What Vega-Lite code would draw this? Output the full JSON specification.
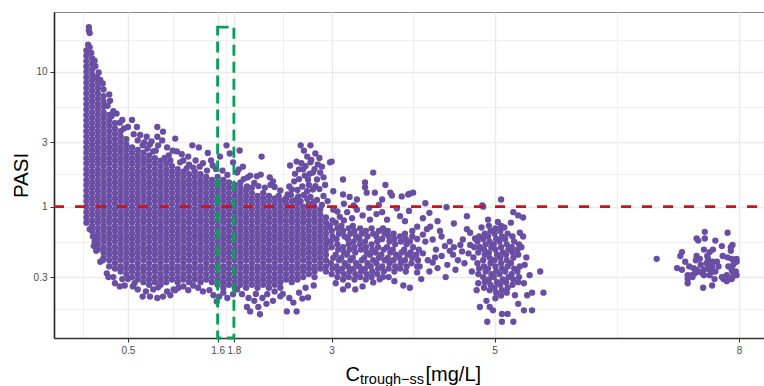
{
  "$schema": "https://vega.github.io/schema/vega-lite/v6.json",
  "width": 710,
  "height": 326,
  "autosize": {"type": "none"},
  "padding": {"left": 54, "top": 12, "right": 0, "bottom": 48},
  "config": {
    "view": {"stroke": "#8a8a8a", "strokeWidth": 1},
    "font": "Liberation Sans"
  },
  "resolve": {"axis": {"x": "independent"}},
  "layer": [
    {
      "data": {
        "values": [
          {"c":-0.01,"p":0.76},{"c":-0.01,"p":0.83},{"c":-0.01,"p":0.91},{"c":-0.01,"p":1},{"c":-0.01,"p":1.1},{"c":-0.01,"p":1.2},{"c":-0.01,"p":1.32},{"c":-0.01,"p":1.45},{"c":-0.01,"p":1.58},{"c":-0.01,"p":1.74},{"c":-0.01,"p":1.9},{"c":-0.01,"p":2.09},{"c":-0.01,"p":2.29},{"c":-0.01,"p":2.51},{"c":-0.01,"p":2.75},{"c":-0.01,"p":3.02},{"c":-0.01,"p":3.31},{"c":-0.01,"p":3.63},{"c":-0.01,"p":3.98},{"c":-0.01,"p":4.37},{"c":-0.01,"p":4.79},{"c":-0.01,"p":5.25},{"c":-0.01,"p":5.75},{"c":-0.01,"p":6.31},{"c":-0.01,"p":6.92},{"c":-0.01,"p":7.59},{"c":-0.01,"p":8.32},{"c":-0.01,"p":9.12},{"c":-0.01,"p":10},{"c":-0.01,"p":10.96},{"c":-0.01,"p":12.02},{"c":-0.01,"p":13.18},{"c":-0.01,"p":14.45},
          {"c":0.01,"p":15.9},{"c":0.03,"p":15.2},{"c":0.02,"p":21.5},{"c":0.02,"p":20.3},{"c":0.03,"p":19.4},
          {"c":0.06,"p":0.66},{"c":0.06,"p":0.72},{"c":0.06,"p":0.79},{"c":0.06,"p":0.87},{"c":0.06,"p":0.955},{"c":0.06,"p":1.05},{"c":0.06,"p":1.15},{"c":0.06,"p":1.26},{"c":0.06,"p":1.38},{"c":0.06,"p":1.51},{"c":0.06,"p":1.66},{"c":0.06,"p":1.82},{"c":0.06,"p":2},{"c":0.06,"p":2.19},{"c":0.06,"p":2.4},{"c":0.06,"p":2.63},{"c":0.06,"p":2.88},{"c":0.06,"p":3.16},{"c":0.06,"p":3.47},{"c":0.06,"p":3.8},{"c":0.06,"p":4.17},{"c":0.06,"p":4.57},{"c":0.06,"p":5.01},{"c":0.06,"p":5.5},{"c":0.06,"p":6.03},{"c":0.06,"p":6.61},{"c":0.06,"p":7.24},{"c":0.06,"p":7.94},{"c":0.06,"p":8.71},{"c":0.06,"p":9.55},{"c":0.06,"p":10.47},{"c":0.06,"p":11.48},{"c":0.06,"p":12.59},{"c":0.05,"p":13.8},
          {"c":0.13,"p":0.48},{"c":0.13,"p":0.525},{"c":0.13,"p":0.575},{"c":0.13,"p":0.63},{"c":0.13,"p":0.69},{"c":0.13,"p":0.76},{"c":0.13,"p":0.83},{"c":0.13,"p":0.91},{"c":0.13,"p":1},{"c":0.13,"p":1.1},{"c":0.13,"p":1.2},{"c":0.13,"p":1.32},{"c":0.13,"p":1.45},{"c":0.13,"p":1.58},{"c":0.13,"p":1.74},{"c":0.13,"p":1.9},{"c":0.13,"p":2.09},{"c":0.13,"p":2.29},{"c":0.13,"p":2.51},{"c":0.13,"p":2.75},{"c":0.13,"p":3.02},{"c":0.13,"p":3.31},{"c":0.13,"p":3.63},{"c":0.13,"p":3.98},{"c":0.13,"p":4.37},{"c":0.13,"p":4.79},{"c":0.13,"p":5.25},{"c":0.13,"p":5.75},{"c":0.13,"p":6.31},{"c":0.13,"p":6.92},{"c":0.13,"p":7.59},{"c":0.13,"p":8.32},{"c":0.12,"p":9.12},
          {"c":0.2,"p":0.417},{"c":0.2,"p":0.457},{"c":0.2,"p":0.5},{"c":0.2,"p":0.55},{"c":0.2,"p":0.6},{"c":0.2,"p":0.66},{"c":0.2,"p":0.72},{"c":0.2,"p":0.79},{"c":0.2,"p":0.87},{"c":0.2,"p":0.955},{"c":0.2,"p":1.05},{"c":0.2,"p":1.15},{"c":0.2,"p":1.26},{"c":0.2,"p":1.38},{"c":0.2,"p":1.51},{"c":0.2,"p":1.66},{"c":0.2,"p":1.82},{"c":0.2,"p":2},{"c":0.2,"p":2.19},{"c":0.2,"p":2.4},{"c":0.2,"p":2.63},{"c":0.2,"p":2.88},{"c":0.2,"p":3.16},{"c":0.2,"p":3.47},{"c":0.2,"p":3.8},{"c":0.2,"p":4.17},{"c":0.2,"p":4.57},{"c":0.2,"p":5.01},{"c":0.2,"p":5.5},{"c":0.2,"p":6.03},{"c":0.2,"p":6.61},
          {"c":0.27,"p":0.36},{"c":0.27,"p":0.4},{"c":0.27,"p":0.44},{"c":0.27,"p":0.48},{"c":0.27,"p":0.525},{"c":0.27,"p":0.575},{"c":0.27,"p":0.63},{"c":0.27,"p":0.69},{"c":0.27,"p":0.76},{"c":0.27,"p":0.83},{"c":0.27,"p":0.91},{"c":0.27,"p":1},{"c":0.27,"p":1.1},{"c":0.27,"p":1.2},{"c":0.27,"p":1.32},{"c":0.27,"p":1.45},{"c":0.27,"p":1.58},{"c":0.27,"p":1.74},{"c":0.27,"p":1.9},{"c":0.27,"p":2.09},{"c":0.27,"p":2.29},{"c":0.27,"p":2.51},{"c":0.27,"p":2.75},{"c":0.27,"p":3.02},{"c":0.27,"p":3.31},{"c":0.27,"p":3.63},{"c":0.27,"p":3.98},{"c":0.27,"p":4.37},{"c":0.27,"p":4.79},
          {"c":0.34,"p":0.347},{"c":0.34,"p":0.38},{"c":0.34,"p":0.417},{"c":0.34,"p":0.457},{"c":0.34,"p":0.5},{"c":0.34,"p":0.55},{"c":0.34,"p":0.6},{"c":0.34,"p":0.66},{"c":0.34,"p":0.72},{"c":0.34,"p":0.79},{"c":0.34,"p":0.87},{"c":0.34,"p":0.955},{"c":0.34,"p":1.05},{"c":0.34,"p":1.15},{"c":0.34,"p":1.26},{"c":0.34,"p":1.38},{"c":0.34,"p":1.51},{"c":0.34,"p":1.66},{"c":0.34,"p":1.82},{"c":0.34,"p":2},{"c":0.34,"p":2.19},{"c":0.34,"p":2.4},{"c":0.34,"p":2.63},{"c":0.34,"p":2.88},{"c":0.34,"p":3.16},{"c":0.34,"p":3.47},{"c":0.34,"p":3.8},{"c":0.34,"p":4.17},
          {"c":0.41,"p":0.33},{"c":0.41,"p":0.36},{"c":0.41,"p":0.4},{"c":0.41,"p":0.44},{"c":0.41,"p":0.48},{"c":0.41,"p":0.525},{"c":0.41,"p":0.575},{"c":0.41,"p":0.63},{"c":0.41,"p":0.69},{"c":0.41,"p":0.76},{"c":0.41,"p":0.83},{"c":0.41,"p":0.91},{"c":0.41,"p":1},{"c":0.41,"p":1.1},{"c":0.41,"p":1.2},{"c":0.41,"p":1.32},{"c":0.41,"p":1.45},{"c":0.41,"p":1.58},{"c":0.41,"p":1.74},{"c":0.41,"p":1.9},{"c":0.41,"p":2.09},{"c":0.41,"p":2.29},{"c":0.41,"p":2.51},{"c":0.41,"p":2.75},{"c":0.41,"p":3.02},{"c":0.41,"p":3.31},{"c":0.41,"p":3.63},
          {"c":0.48,"p":0.316},{"c":0.48,"p":0.347},{"c":0.48,"p":0.38},{"c":0.48,"p":0.417},{"c":0.48,"p":0.457},{"c":0.48,"p":0.5},{"c":0.48,"p":0.55},{"c":0.48,"p":0.6},{"c":0.48,"p":0.66},{"c":0.48,"p":0.72},{"c":0.48,"p":0.79},{"c":0.48,"p":0.87},{"c":0.48,"p":0.955},{"c":0.48,"p":1.05},{"c":0.48,"p":1.15},{"c":0.48,"p":1.26},{"c":0.48,"p":1.38},{"c":0.48,"p":1.51},{"c":0.48,"p":1.66},{"c":0.48,"p":1.82},{"c":0.48,"p":2},{"c":0.48,"p":2.19},{"c":0.48,"p":2.4},{"c":0.48,"p":2.63},{"c":0.48,"p":2.88},{"c":0.48,"p":3.16},
          {"c":0.55,"p":0.3},{"c":0.55,"p":0.33},{"c":0.55,"p":0.36},{"c":0.55,"p":0.4},{"c":0.55,"p":0.44},{"c":0.55,"p":0.48},{"c":0.55,"p":0.525},{"c":0.55,"p":0.575},{"c":0.55,"p":0.63},{"c":0.55,"p":0.69},{"c":0.55,"p":0.76},{"c":0.55,"p":0.83},{"c":0.55,"p":0.91},{"c":0.55,"p":1},{"c":0.55,"p":1.1},{"c":0.55,"p":1.2},{"c":0.55,"p":1.32},{"c":0.55,"p":1.45},{"c":0.55,"p":1.58},{"c":0.55,"p":1.74},{"c":0.55,"p":1.9},{"c":0.55,"p":2.09},{"c":0.55,"p":2.29},{"c":0.55,"p":2.51},{"c":0.55,"p":2.75},
          {"c":0.62,"p":0.288},{"c":0.62,"p":0.316},{"c":0.62,"p":0.347},{"c":0.62,"p":0.38},{"c":0.62,"p":0.417},{"c":0.62,"p":0.457},{"c":0.62,"p":0.5},{"c":0.62,"p":0.55},{"c":0.62,"p":0.6},{"c":0.62,"p":0.66},{"c":0.62,"p":0.72},{"c":0.62,"p":0.79},{"c":0.62,"p":0.87},{"c":0.62,"p":0.955},{"c":0.62,"p":1.05},{"c":0.62,"p":1.15},{"c":0.62,"p":1.26},{"c":0.62,"p":1.38},{"c":0.62,"p":1.51},{"c":0.62,"p":1.66},{"c":0.62,"p":1.82},{"c":0.62,"p":2},{"c":0.62,"p":2.19},{"c":0.62,"p":2.4},{"c":0.62,"p":2.63},
          {"c":0.69,"p":0.275},{"c":0.69,"p":0.3},{"c":0.69,"p":0.33},{"c":0.69,"p":0.36},{"c":0.69,"p":0.4},{"c":0.69,"p":0.44},{"c":0.69,"p":0.48},{"c":0.69,"p":0.525},{"c":0.69,"p":0.575},{"c":0.69,"p":0.63},{"c":0.69,"p":0.69},{"c":0.69,"p":0.76},{"c":0.69,"p":0.83},{"c":0.69,"p":0.91},{"c":0.69,"p":1},{"c":0.69,"p":1.1},{"c":0.69,"p":1.2},{"c":0.69,"p":1.32},{"c":0.69,"p":1.45},{"c":0.69,"p":1.58},{"c":0.69,"p":1.74},{"c":0.69,"p":1.9},{"c":0.69,"p":2.09},{"c":0.69,"p":2.29},{"c":0.69,"p":2.51},
          {"c":0.76,"p":0.263},{"c":0.76,"p":0.288},{"c":0.76,"p":0.316},{"c":0.76,"p":0.347},{"c":0.76,"p":0.38},{"c":0.76,"p":0.417},{"c":0.76,"p":0.457},{"c":0.76,"p":0.5},{"c":0.76,"p":0.55},{"c":0.76,"p":0.6},{"c":0.76,"p":0.66},{"c":0.76,"p":0.72},{"c":0.76,"p":0.79},{"c":0.76,"p":0.87},{"c":0.76,"p":0.955},{"c":0.76,"p":1.05},{"c":0.76,"p":1.15},{"c":0.76,"p":1.26},{"c":0.76,"p":1.38},{"c":0.76,"p":1.51},{"c":0.76,"p":1.66},{"c":0.76,"p":1.82},{"c":0.76,"p":2},{"c":0.76,"p":2.19},{"c":0.76,"p":2.4},
          {"c":0.83,"p":0.275},{"c":0.83,"p":0.3},{"c":0.83,"p":0.33},{"c":0.83,"p":0.36},{"c":0.83,"p":0.4},{"c":0.83,"p":0.44},{"c":0.83,"p":0.48},{"c":0.83,"p":0.525},{"c":0.83,"p":0.575},{"c":0.83,"p":0.63},{"c":0.83,"p":0.69},{"c":0.83,"p":0.76},{"c":0.83,"p":0.83},{"c":0.83,"p":0.91},{"c":0.83,"p":1},{"c":0.83,"p":1.1},{"c":0.83,"p":1.2},{"c":0.83,"p":1.32},{"c":0.83,"p":1.45},{"c":0.83,"p":1.58},{"c":0.83,"p":1.74},{"c":0.83,"p":1.9},{"c":0.83,"p":2.09},{"c":0.83,"p":2.29},
          {"c":0.9,"p":0.263},{"c":0.9,"p":0.288},{"c":0.9,"p":0.316},{"c":0.9,"p":0.347},{"c":0.9,"p":0.38},{"c":0.9,"p":0.417},{"c":0.9,"p":0.457},{"c":0.9,"p":0.5},{"c":0.9,"p":0.55},{"c":0.9,"p":0.6},{"c":0.9,"p":0.66},{"c":0.9,"p":0.72},{"c":0.9,"p":0.79},{"c":0.9,"p":0.87},{"c":0.9,"p":0.955},{"c":0.9,"p":1.05},{"c":0.9,"p":1.15},{"c":0.9,"p":1.26},{"c":0.9,"p":1.38},{"c":0.9,"p":1.51},{"c":0.9,"p":1.66},{"c":0.9,"p":1.82},{"c":0.9,"p":2},{"c":0.9,"p":2.19},
          {"c":0.97,"p":0.275},{"c":0.97,"p":0.3},{"c":0.97,"p":0.33},{"c":0.97,"p":0.36},{"c":0.97,"p":0.4},{"c":0.97,"p":0.44},{"c":0.97,"p":0.48},{"c":0.97,"p":0.525},{"c":0.97,"p":0.575},{"c":0.97,"p":0.63},{"c":0.97,"p":0.69},{"c":0.97,"p":0.76},{"c":0.97,"p":0.83},{"c":0.97,"p":0.91},{"c":0.97,"p":1},{"c":0.97,"p":1.1},{"c":0.97,"p":1.2},{"c":0.97,"p":1.32},{"c":0.97,"p":1.45},{"c":0.97,"p":1.58},{"c":0.97,"p":1.74},{"c":0.97,"p":1.9},{"c":0.97,"p":2.09},
          {"c":1.04,"p":0.288},{"c":1.04,"p":0.316},{"c":1.04,"p":0.347},{"c":1.04,"p":0.38},{"c":1.04,"p":0.417},{"c":1.04,"p":0.457},{"c":1.04,"p":0.5},{"c":1.04,"p":0.55},{"c":1.04,"p":0.6},{"c":1.04,"p":0.66},{"c":1.04,"p":0.72},{"c":1.04,"p":0.79},{"c":1.04,"p":0.87},{"c":1.04,"p":0.955},{"c":1.04,"p":1.05},{"c":1.04,"p":1.15},{"c":1.04,"p":1.26},{"c":1.04,"p":1.38},{"c":1.04,"p":1.51},{"c":1.04,"p":1.66},{"c":1.04,"p":1.82},{"c":1.04,"p":2},
          {"c":1.11,"p":0.275},{"c":1.11,"p":0.3},{"c":1.11,"p":0.33},{"c":1.11,"p":0.36},{"c":1.11,"p":0.4},{"c":1.11,"p":0.44},{"c":1.11,"p":0.48},{"c":1.11,"p":0.525},{"c":1.11,"p":0.575},{"c":1.11,"p":0.63},{"c":1.11,"p":0.69},{"c":1.11,"p":0.76},{"c":1.11,"p":0.83},{"c":1.11,"p":0.91},{"c":1.11,"p":1},{"c":1.11,"p":1.1},{"c":1.11,"p":1.2},{"c":1.11,"p":1.32},{"c":1.11,"p":1.45},{"c":1.11,"p":1.58},{"c":1.11,"p":1.74},{"c":1.11,"p":1.9},
          {"c":1.18,"p":0.288},{"c":1.18,"p":0.316},{"c":1.18,"p":0.347},{"c":1.18,"p":0.38},{"c":1.18,"p":0.417},{"c":1.18,"p":0.457},{"c":1.18,"p":0.5},{"c":1.18,"p":0.55},{"c":1.18,"p":0.6},{"c":1.18,"p":0.66},{"c":1.18,"p":0.72},{"c":1.18,"p":0.79},{"c":1.18,"p":0.87},{"c":1.18,"p":0.955},{"c":1.18,"p":1.05},{"c":1.18,"p":1.15},{"c":1.18,"p":1.26},{"c":1.18,"p":1.38},{"c":1.18,"p":1.51},{"c":1.18,"p":1.66},{"c":1.18,"p":1.82},
          {"c":1.25,"p":0.275},{"c":1.25,"p":0.3},{"c":1.25,"p":0.33},{"c":1.25,"p":0.36},{"c":1.25,"p":0.4},{"c":1.25,"p":0.44},{"c":1.25,"p":0.48},{"c":1.25,"p":0.525},{"c":1.25,"p":0.575},{"c":1.25,"p":0.63},{"c":1.25,"p":0.69},{"c":1.25,"p":0.76},{"c":1.25,"p":0.83},{"c":1.25,"p":0.91},{"c":1.25,"p":1},{"c":1.25,"p":1.1},{"c":1.25,"p":1.2},{"c":1.25,"p":1.32},{"c":1.25,"p":1.45},{"c":1.25,"p":1.58},{"c":1.25,"p":1.74},
          {"c":1.32,"p":0.288},{"c":1.32,"p":0.316},{"c":1.32,"p":0.347},{"c":1.32,"p":0.38},{"c":1.32,"p":0.417},{"c":1.32,"p":0.457},{"c":1.32,"p":0.5},{"c":1.32,"p":0.55},{"c":1.32,"p":0.6},{"c":1.32,"p":0.66},{"c":1.32,"p":0.72},{"c":1.32,"p":0.79},{"c":1.32,"p":0.87},{"c":1.32,"p":0.955},{"c":1.32,"p":1.05},{"c":1.32,"p":1.15},{"c":1.32,"p":1.26},{"c":1.32,"p":1.38},{"c":1.32,"p":1.51},{"c":1.32,"p":1.66},{"c":1.32,"p":1.82},
          {"c":1.39,"p":0.275},{"c":1.39,"p":0.3},{"c":1.39,"p":0.33},{"c":1.39,"p":0.36},{"c":1.39,"p":0.4},{"c":1.39,"p":0.44},{"c":1.39,"p":0.48},{"c":1.39,"p":0.525},{"c":1.39,"p":0.575},{"c":1.39,"p":0.63},{"c":1.39,"p":0.69},{"c":1.39,"p":0.76},{"c":1.39,"p":0.83},{"c":1.39,"p":0.91},{"c":1.39,"p":1},{"c":1.39,"p":1.1},{"c":1.39,"p":1.2},{"c":1.39,"p":1.32},{"c":1.39,"p":1.45},{"c":1.39,"p":1.58},{"c":1.39,"p":1.74},
          {"c":1.46,"p":0.288},{"c":1.46,"p":0.316},{"c":1.46,"p":0.347},{"c":1.46,"p":0.38},{"c":1.46,"p":0.417},{"c":1.46,"p":0.457},{"c":1.46,"p":0.5},{"c":1.46,"p":0.55},{"c":1.46,"p":0.6},{"c":1.46,"p":0.66},{"c":1.46,"p":0.72},{"c":1.46,"p":0.79},{"c":1.46,"p":0.87},{"c":1.46,"p":0.955},{"c":1.46,"p":1.05},{"c":1.46,"p":1.15},{"c":1.46,"p":1.26},{"c":1.46,"p":1.38},{"c":1.46,"p":1.51},{"c":1.46,"p":1.66},
          {"c":1.53,"p":0.275},{"c":1.53,"p":0.3},{"c":1.53,"p":0.33},{"c":1.53,"p":0.36},{"c":1.53,"p":0.4},{"c":1.53,"p":0.44},{"c":1.53,"p":0.48},{"c":1.53,"p":0.525},{"c":1.53,"p":0.575},{"c":1.53,"p":0.63},{"c":1.53,"p":0.69},{"c":1.53,"p":0.76},{"c":1.53,"p":0.83},{"c":1.53,"p":0.91},{"c":1.53,"p":1},{"c":1.53,"p":1.1},{"c":1.53,"p":1.2},{"c":1.53,"p":1.32},{"c":1.53,"p":1.45},{"c":1.53,"p":1.58},
          {"c":1.6,"p":0.263},{"c":1.6,"p":0.288},{"c":1.6,"p":0.316},{"c":1.6,"p":0.347},{"c":1.6,"p":0.38},{"c":1.6,"p":0.417},{"c":1.6,"p":0.457},{"c":1.6,"p":0.5},{"c":1.6,"p":0.55},{"c":1.6,"p":0.6},{"c":1.6,"p":0.66},{"c":1.6,"p":0.72},{"c":1.6,"p":0.79},{"c":1.6,"p":0.87},{"c":1.6,"p":0.955},{"c":1.6,"p":1.05},{"c":1.6,"p":1.15},{"c":1.6,"p":1.26},{"c":1.6,"p":1.38},{"c":1.6,"p":1.51},{"c":1.6,"p":1.66},
          {"c":1.67,"p":0.25},{"c":1.67,"p":0.275},{"c":1.67,"p":0.3},{"c":1.67,"p":0.33},{"c":1.67,"p":0.36},{"c":1.67,"p":0.4},{"c":1.67,"p":0.44},{"c":1.67,"p":0.48},{"c":1.67,"p":0.525},{"c":1.67,"p":0.575},{"c":1.67,"p":0.63},{"c":1.67,"p":0.69},{"c":1.67,"p":0.76},{"c":1.67,"p":0.83},{"c":1.67,"p":0.91},{"c":1.67,"p":1},{"c":1.67,"p":1.1},{"c":1.67,"p":1.2},{"c":1.67,"p":1.32},{"c":1.67,"p":1.45},{"c":1.67,"p":1.58},
          {"c":1.74,"p":0.263},{"c":1.74,"p":0.288},{"c":1.74,"p":0.316},{"c":1.74,"p":0.347},{"c":1.74,"p":0.38},{"c":1.74,"p":0.417},{"c":1.74,"p":0.457},{"c":1.74,"p":0.5},{"c":1.74,"p":0.55},{"c":1.74,"p":0.6},{"c":1.74,"p":0.66},{"c":1.74,"p":0.72},{"c":1.74,"p":0.79},{"c":1.74,"p":0.87},{"c":1.74,"p":0.955},{"c":1.74,"p":1.05},{"c":1.74,"p":1.15},{"c":1.74,"p":1.26},{"c":1.74,"p":1.38},{"c":1.74,"p":1.51},
          {"c":1.81,"p":0.25},{"c":1.81,"p":0.275},{"c":1.81,"p":0.3},{"c":1.81,"p":0.33},{"c":1.81,"p":0.36},{"c":1.81,"p":0.4},{"c":1.81,"p":0.44},{"c":1.81,"p":0.48},{"c":1.81,"p":0.525},{"c":1.81,"p":0.575},{"c":1.81,"p":0.63},{"c":1.81,"p":0.69},{"c":1.81,"p":0.76},{"c":1.81,"p":0.83},{"c":1.81,"p":0.91},{"c":1.81,"p":1},{"c":1.81,"p":1.1},{"c":1.81,"p":1.2},{"c":1.81,"p":1.32},{"c":1.81,"p":1.45},
          {"c":1.88,"p":0.263},{"c":1.88,"p":0.288},{"c":1.88,"p":0.316},{"c":1.88,"p":0.347},{"c":1.88,"p":0.38},{"c":1.88,"p":0.417},{"c":1.88,"p":0.457},{"c":1.88,"p":0.5},{"c":1.88,"p":0.55},{"c":1.88,"p":0.6},{"c":1.88,"p":0.66},{"c":1.88,"p":0.72},{"c":1.88,"p":0.79},{"c":1.88,"p":0.87},{"c":1.88,"p":0.955},{"c":1.88,"p":1.05},{"c":1.88,"p":1.15},{"c":1.88,"p":1.26},{"c":1.88,"p":1.38},{"c":1.88,"p":1.51},
          {"c":1.95,"p":0.25},{"c":1.95,"p":0.275},{"c":1.95,"p":0.3},{"c":1.95,"p":0.33},{"c":1.95,"p":0.36},{"c":1.95,"p":0.4},{"c":1.95,"p":0.44},{"c":1.95,"p":0.48},{"c":1.95,"p":0.525},{"c":1.95,"p":0.575},{"c":1.95,"p":0.63},{"c":1.95,"p":0.69},{"c":1.95,"p":0.76},{"c":1.95,"p":0.83},{"c":1.95,"p":0.91},{"c":1.95,"p":1},{"c":1.95,"p":1.1},{"c":1.95,"p":1.2},{"c":1.95,"p":1.32},
          {"c":2.02,"p":0.263},{"c":2.02,"p":0.288},{"c":2.02,"p":0.316},{"c":2.02,"p":0.347},{"c":2.02,"p":0.38},{"c":2.02,"p":0.417},{"c":2.02,"p":0.457},{"c":2.02,"p":0.5},{"c":2.02,"p":0.55},{"c":2.02,"p":0.6},{"c":2.02,"p":0.66},{"c":2.02,"p":0.72},{"c":2.02,"p":0.79},{"c":2.02,"p":0.87},{"c":2.02,"p":0.955},{"c":2.02,"p":1.05},{"c":2.02,"p":1.15},{"c":2.02,"p":1.26},{"c":2.02,"p":1.38},
          {"c":2.09,"p":0.25},{"c":2.09,"p":0.275},{"c":2.09,"p":0.3},{"c":2.09,"p":0.33},{"c":2.09,"p":0.36},{"c":2.09,"p":0.4},{"c":2.09,"p":0.44},{"c":2.09,"p":0.48},{"c":2.09,"p":0.525},{"c":2.09,"p":0.575},{"c":2.09,"p":0.63},{"c":2.09,"p":0.69},{"c":2.09,"p":0.76},{"c":2.09,"p":0.83},{"c":2.09,"p":0.91},{"c":2.09,"p":1},{"c":2.09,"p":1.1},{"c":2.09,"p":1.2},
          {"c":2.16,"p":0.263},{"c":2.16,"p":0.288},{"c":2.16,"p":0.316},{"c":2.16,"p":0.347},{"c":2.16,"p":0.38},{"c":2.16,"p":0.417},{"c":2.16,"p":0.457},{"c":2.16,"p":0.5},{"c":2.16,"p":0.55},{"c":2.16,"p":0.6},{"c":2.16,"p":0.66},{"c":2.16,"p":0.72},{"c":2.16,"p":0.79},{"c":2.16,"p":0.87},{"c":2.16,"p":0.955},{"c":2.16,"p":1.05},{"c":2.16,"p":1.15},{"c":2.16,"p":1.26},
          {"c":2.23,"p":0.25},{"c":2.23,"p":0.275},{"c":2.23,"p":0.3},{"c":2.23,"p":0.33},{"c":2.23,"p":0.36},{"c":2.23,"p":0.4},{"c":2.23,"p":0.44},{"c":2.23,"p":0.48},{"c":2.23,"p":0.525},{"c":2.23,"p":0.575},{"c":2.23,"p":0.63},{"c":2.23,"p":0.69},{"c":2.23,"p":0.76},{"c":2.23,"p":0.83},{"c":2.23,"p":0.91},{"c":2.23,"p":1},{"c":2.23,"p":1.1},{"c":2.23,"p":1.2},
          {"c":2.3,"p":0.263},{"c":2.3,"p":0.288},{"c":2.3,"p":0.316},{"c":2.3,"p":0.347},{"c":2.3,"p":0.38},{"c":2.3,"p":0.417},{"c":2.3,"p":0.457},{"c":2.3,"p":0.5},{"c":2.3,"p":0.55},{"c":2.3,"p":0.6},{"c":2.3,"p":0.66},{"c":2.3,"p":0.72},{"c":2.3,"p":0.79},{"c":2.3,"p":0.87},{"c":2.3,"p":0.955},{"c":2.3,"p":1.05},{"c":2.3,"p":1.15},
          {"c":2.37,"p":0.25},{"c":2.37,"p":0.275},{"c":2.37,"p":0.3},{"c":2.37,"p":0.33},{"c":2.37,"p":0.36},{"c":2.37,"p":0.4},{"c":2.37,"p":0.44},{"c":2.37,"p":0.48},{"c":2.37,"p":0.525},{"c":2.37,"p":0.575},{"c":2.37,"p":0.63},{"c":2.37,"p":0.69},{"c":2.37,"p":0.76},{"c":2.37,"p":0.83},{"c":2.37,"p":0.91},{"c":2.37,"p":1},{"c":2.37,"p":1.1},
          {"c":2.44,"p":0.288},{"c":2.44,"p":0.316},{"c":2.44,"p":0.347},{"c":2.44,"p":0.38},{"c":2.44,"p":0.417},{"c":2.44,"p":0.457},{"c":2.44,"p":0.5},{"c":2.44,"p":0.55},{"c":2.44,"p":0.6},{"c":2.44,"p":0.66},{"c":2.44,"p":0.72},{"c":2.44,"p":0.79},{"c":2.44,"p":0.87},{"c":2.44,"p":0.955},{"c":2.44,"p":1.05},{"c":2.44,"p":1.15},
          {"c":2.51,"p":0.275},{"c":2.51,"p":0.3},{"c":2.51,"p":0.33},{"c":2.51,"p":0.36},{"c":2.51,"p":0.4},{"c":2.51,"p":0.44},{"c":2.51,"p":0.48},{"c":2.51,"p":0.525},{"c":2.51,"p":0.575},{"c":2.51,"p":0.63},{"c":2.51,"p":0.69},{"c":2.51,"p":0.76},{"c":2.51,"p":0.83},{"c":2.51,"p":0.91},{"c":2.51,"p":1},{"c":2.51,"p":1.1},
          {"c":2.58,"p":0.288},{"c":2.58,"p":0.316},{"c":2.58,"p":0.347},{"c":2.58,"p":0.38},{"c":2.58,"p":0.417},{"c":2.58,"p":0.457},{"c":2.58,"p":0.5},{"c":2.58,"p":0.55},{"c":2.58,"p":0.6},{"c":2.58,"p":0.66},{"c":2.58,"p":0.72},{"c":2.58,"p":0.79},{"c":2.58,"p":0.87},{"c":2.58,"p":0.955},{"c":2.58,"p":1.05},{"c":2.58,"p":1.15},
          {"c":2.65,"p":0.3},{"c":2.65,"p":0.33},{"c":2.65,"p":0.36},{"c":2.65,"p":0.4},{"c":2.65,"p":0.44},{"c":2.65,"p":0.48},{"c":2.65,"p":0.525},{"c":2.65,"p":0.575},{"c":2.65,"p":0.63},{"c":2.65,"p":0.69},{"c":2.65,"p":0.76},{"c":2.65,"p":0.83},{"c":2.65,"p":0.91},{"c":2.65,"p":1},
          {"c":2.72,"p":0.316},{"c":2.72,"p":0.347},{"c":2.72,"p":0.38},{"c":2.72,"p":0.417},{"c":2.72,"p":0.457},{"c":2.72,"p":0.5},{"c":2.72,"p":0.55},{"c":2.72,"p":0.6},{"c":2.72,"p":0.66},{"c":2.72,"p":0.72},{"c":2.72,"p":0.79},{"c":2.72,"p":0.87},{"c":2.72,"p":0.955},{"c":2.72,"p":1.05},
          {"c":2.79,"p":0.3},{"c":2.79,"p":0.33},{"c":2.79,"p":0.36},{"c":2.79,"p":0.4},{"c":2.79,"p":0.44},{"c":2.79,"p":0.48},{"c":2.79,"p":0.525},{"c":2.79,"p":0.575},{"c":2.79,"p":0.63},{"c":2.79,"p":0.69},{"c":2.79,"p":0.76},{"c":2.79,"p":0.83},{"c":2.79,"p":0.91},{"c":2.79,"p":1},
          {"c":2.86,"p":0.347},{"c":2.86,"p":0.38},{"c":2.86,"p":0.417},{"c":2.86,"p":0.457},{"c":2.86,"p":0.5},{"c":2.86,"p":0.55},{"c":2.86,"p":0.6},{"c":2.86,"p":0.66},{"c":2.86,"p":0.72},{"c":2.86,"p":0.79},{"c":2.86,"p":0.87},{"c":2.86,"p":0.955},
          {"c":2.93,"p":0.33},{"c":2.93,"p":0.36},{"c":2.93,"p":0.4},{"c":2.93,"p":0.44},{"c":2.93,"p":0.48},{"c":2.93,"p":0.525},{"c":2.93,"p":0.575},{"c":2.93,"p":0.63},{"c":2.93,"p":0.69},{"c":2.93,"p":0.76},{"c":2.93,"p":0.83},
          {"c":0.16,"p":8.7},{"c":0.14,"p":9.9},{"c":0.1,"p":11},{"c":0.09,"p":12.1},{"c":0.19,"p":8.2},{"c":0.2,"p":7.4},{"c":0.27,"p":6.8},{"c":0.28,"p":6.1},{"c":0.25,"p":5.6},{"c":0.32,"p":5.1},{"c":0.36,"p":4.9},{"c":0.3,"p":4.7},{"c":0.43,"p":4.4},{"c":0.4,"p":4.2},{"c":0.45,"p":3.8},{"c":0.55,"p":4.4},{"c":0.61,"p":3.9},{"c":0.5,"p":3.9},{"c":0.86,"p":3.9},{"c":0.93,"p":3.6},{"c":0.73,"p":3.3},{"c":0.86,"p":3.3},{"c":0.92,"p":3.1},{"c":1.08,"p":3.2},{"c":0.65,"p":3.4},{"c":0.57,"p":3.45},{"c":0.62,"p":3.1},{"c":0.77,"p":2.9},{"c":0.7,"p":3},{"c":0.68,"p":2.85},{"c":0.98,"p":2.75},{"c":1.1,"p":2.57},{"c":0.81,"p":2.57},{"c":0.79,"p":3.05},{"c":0.87,"p":2.85},{"c":1.29,"p":2.85},{"c":1.37,"p":2.75},{"c":1.48,"p":2.5},{"c":1.71,"p":2.85},{"c":1.63,"p":2.35},{"c":1.75,"p":2.48},{"c":1.24,"p":2.35},{"c":1.14,"p":2.13},{"c":1,"p":2.4},{"c":1.05,"p":2.6},{"c":1.16,"p":2.45},{"c":1.18,"p":2.2},{"c":1.25,"p":2.05},{"c":1.33,"p":2.2},{"c":1.42,"p":2.1},{"c":1.38,"p":1.98},{"c":1.54,"p":2.02},{"c":1.52,"p":2.2},{"c":1.47,"p":1.85},{"c":1.58,"p":1.9},{"c":1.66,"p":1.85},{"c":1.72,"p":1.72},{"c":1.79,"p":2.13},{"c":1.84,"p":1.79},{"c":1.86,"p":1.89},{"c":1.87,"p":2.61},{"c":1.91,"p":1.98},{"c":1.92,"p":1.6},{"c":1.97,"p":1.65},{"c":2,"p":1.7},{"c":1.96,"p":1.41},{"c":2.05,"p":1.5},{"c":2.08,"p":1.68},{"c":2.1,"p":1.42},{"c":2.18,"p":1.38},{"c":2.25,"p":1.45},{"c":2.3,"p":1.4},{"c":2.13,"p":1.73},{"c":2.24,"p":1.65},{"c":2.28,"p":1.54},{"c":2.14,"p":2.35},{"c":1.22,"p":1.92},{"c":1.3,"p":1.95},{"c":0.95,"p":2.3},{"c":0.84,"p":2.6},{"c":0.74,"p":2.7},{"c":1.02,"p":2.2},
          {"c":2.49,"p":2.02},{"c":2.57,"p":2.16},{"c":2.62,"p":2.85},{"c":2.74,"p":2.85},{"c":2.7,"p":2.35},{"c":2.8,"p":2.48},{"c":2.98,"p":2.13},{"c":3,"p":2.16},{"c":2.6,"p":1.89},{"c":2.74,"p":2.13},{"c":2.83,"p":2.06},{"c":2.86,"p":1.79},{"c":2.88,"p":1.98},{"c":2.77,"p":1.79},{"c":2.65,"p":1.89},{"c":2.71,"p":1.59},{"c":2.82,"p":1.59},{"c":2.64,"p":1.41},{"c":2.7,"p":1.3},{"c":2.77,"p":1.34},{"c":2.51,"p":1.34},{"c":2.37,"p":1.32},{"c":2.46,"p":1.23},{"c":2.59,"p":1.19},{"c":2.48,"p":1.41},{"c":2.54,"p":1.54},{"c":2.67,"p":1.7},{"c":2.73,"p":1.75},{"c":2.79,"p":1.9},{"c":2.68,"p":2},{"c":2.75,"p":2.22},{"c":2.66,"p":2.6},{"c":2.85,"p":2.3},{"c":2.9,"p":1.65},{"c":2.6,"p":1.6},{"c":2.55,"p":1.75},{"c":2.63,"p":2.1},{"c":2.72,"p":1.45},{"c":2.8,"p":1.42},{"c":2.85,"p":1.35},{"c":2.92,"p":1.45},{"c":2.58,"p":1.33},{"c":2.66,"p":1.22},{"c":2.74,"p":1.18},{"c":2.82,"p":1.12},{"c":2.9,"p":1.2},{"c":2.95,"p":1.1},{"c":2.42,"p":1.12},{"c":2.5,"p":1.22},{"c":2.35,"p":1.2},{"c":2.62,"p":1.1},{"c":2.78,"p":1.08},{"c":2.88,"p":1.03},{"c":2.7,"p":1.14},{"c":2.56,"p":1.12},
          {"c":0.03,"p":0.68},{"c":0.07,"p":0.6},{"c":0.09,"p":0.55},{"c":0.11,"p":0.47},{"c":0.08,"p":0.51},{"c":0.16,"p":0.39},{"c":0.19,"p":0.4},{"c":0.24,"p":0.32},{"c":0.26,"p":0.3},{"c":0.32,"p":0.3},{"c":0.34,"p":0.27},{"c":0.4,"p":0.256},{"c":0.43,"p":0.29},{"c":0.5,"p":0.29},{"c":0.46,"p":0.26},{"c":0.56,"p":0.256},{"c":0.62,"p":0.243},{"c":0.68,"p":0.215},{"c":0.77,"p":0.215},{"c":0.81,"p":0.243},{"c":0.86,"p":0.21},{"c":0.87,"p":0.252},{"c":0.93,"p":0.215},{"c":0.98,"p":0.235},{"c":1.06,"p":0.243},{"c":1.02,"p":0.22},{"c":1.08,"p":0.24},{"c":1.18,"p":0.256},{"c":1.3,"p":0.26},{"c":1.36,"p":0.25},{"c":1.42,"p":0.235},{"c":1.5,"p":0.24},{"c":1.55,"p":0.22},{"c":1.59,"p":0.198},{"c":1.62,"p":0.215},{"c":1.67,"p":0.23},{"c":1.72,"p":0.21},{"c":1.79,"p":0.224},{"c":1.84,"p":0.243},{"c":1.9,"p":0.224},{"c":1.96,"p":0.18},{"c":1.98,"p":0.21},{"c":2,"p":0.167},{"c":2.05,"p":0.2},{"c":2.07,"p":0.225},{"c":2.1,"p":0.18},{"c":2.12,"p":0.159},{"c":2.15,"p":0.21},{"c":2.2,"p":0.19},{"c":2.21,"p":0.224},{"c":2.28,"p":0.2},{"c":2.3,"p":0.235},{"c":2.37,"p":0.216},{"c":2.4,"p":0.225},{"c":2.45,"p":0.167},{"c":2.48,"p":0.21},{"c":2.53,"p":0.194},{"c":2.57,"p":0.167},{"c":2.6,"p":0.23},{"c":2.64,"p":0.208},{"c":2.68,"p":0.25},{"c":2.71,"p":0.212},{"c":2.78,"p":0.26},{"c":0.72,"p":0.235},{"c":0.58,"p":0.27},{"c":1.24,"p":0.24},{"c":1.12,"p":0.25},
          {"c":3,"p":0.316},{"c":3.01,"p":0.347},{"c":2.99,"p":0.38},{"c":3.02,"p":0.417},{"c":3,"p":0.5},{"c":2.99,"p":0.55},{"c":3.01,"p":0.6},{"c":3,"p":0.66},{"c":2.98,"p":0.72},{"c":3.01,"p":0.79},
          {"c":3.07,"p":0.3},{"c":3.08,"p":0.33},{"c":3.06,"p":0.36},{"c":3.09,"p":0.4},{"c":3.05,"p":0.44},{"c":3.08,"p":0.48},{"c":3.07,"p":0.525},{"c":3.06,"p":0.575},{"c":3.09,"p":0.63},{"c":3.07,"p":0.69},{"c":3.05,"p":0.76},
          {"c":3.14,"p":0.288},{"c":3.15,"p":0.316},{"c":3.13,"p":0.347},{"c":3.16,"p":0.38},{"c":3.12,"p":0.417},{"c":3.15,"p":0.457},{"c":3.14,"p":0.5},{"c":3.16,"p":0.6},{"c":3.14,"p":0.66},{"c":3.12,"p":0.72},{"c":3.15,"p":0.79},
          {"c":3.21,"p":0.3},{"c":3.22,"p":0.33},{"c":3.2,"p":0.36},{"c":3.23,"p":0.4},{"c":3.19,"p":0.44},{"c":3.22,"p":0.48},{"c":3.21,"p":0.525},{"c":3.2,"p":0.575},{"c":3.23,"p":0.63},{"c":3.21,"p":0.69},
          {"c":3.28,"p":0.288},{"c":3.29,"p":0.316},{"c":3.27,"p":0.347},{"c":3.3,"p":0.38},{"c":3.26,"p":0.417},{"c":3.29,"p":0.457},{"c":3.28,"p":0.5},{"c":3.27,"p":0.55},{"c":3.3,"p":0.6},{"c":3.28,"p":0.66},{"c":3.26,"p":0.72},
          {"c":3.35,"p":0.3},{"c":3.36,"p":0.33},{"c":3.34,"p":0.36},{"c":3.37,"p":0.4},{"c":3.36,"p":0.48},{"c":3.35,"p":0.525},{"c":3.34,"p":0.575},{"c":3.37,"p":0.63},{"c":3.35,"p":0.69},
          {"c":3.42,"p":0.288},{"c":3.43,"p":0.316},{"c":3.41,"p":0.347},{"c":3.44,"p":0.38},{"c":3.4,"p":0.417},{"c":3.43,"p":0.457},{"c":3.42,"p":0.5},{"c":3.41,"p":0.55},{"c":3.44,"p":0.6},{"c":3.42,"p":0.66},
          {"c":3.49,"p":0.3},{"c":3.5,"p":0.33},{"c":3.48,"p":0.36},{"c":3.51,"p":0.4},{"c":3.47,"p":0.44},{"c":3.5,"p":0.48},{"c":3.49,"p":0.525},{"c":3.51,"p":0.63},{"c":3.49,"p":0.69},
          {"c":3.56,"p":0.316},{"c":3.57,"p":0.347},{"c":3.55,"p":0.38},{"c":3.58,"p":0.417},{"c":3.54,"p":0.457},{"c":3.57,"p":0.5},{"c":3.56,"p":0.55},{"c":3.55,"p":0.6},{"c":3.58,"p":0.66},
          {"c":3.63,"p":0.3},{"c":3.64,"p":0.33},{"c":3.62,"p":0.36},{"c":3.65,"p":0.4},{"c":3.61,"p":0.44},{"c":3.64,"p":0.48},{"c":3.62,"p":0.575},{"c":3.65,"p":0.63},{"c":3.63,"p":0.69},
          {"c":3.7,"p":0.347},{"c":3.71,"p":0.38},{"c":3.69,"p":0.417},{"c":3.72,"p":0.457},{"c":3.68,"p":0.5},{"c":3.71,"p":0.55},{"c":3.7,"p":0.6},{"c":3.69,"p":0.66},
          {"c":3.77,"p":0.33},{"c":3.78,"p":0.36},{"c":3.76,"p":0.4},{"c":3.79,"p":0.44},{"c":3.75,"p":0.48},{"c":3.78,"p":0.525},{"c":3.77,"p":0.575},{"c":3.76,"p":0.63},
          {"c":3.84,"p":0.347},{"c":3.85,"p":0.38},{"c":3.83,"p":0.417},{"c":3.86,"p":0.457},{"c":3.85,"p":0.55},{"c":3.84,"p":0.6},
          {"c":3.91,"p":0.33},{"c":3.92,"p":0.36},{"c":3.9,"p":0.4},{"c":3.93,"p":0.44},{"c":3.89,"p":0.48},{"c":3.92,"p":0.525},{"c":3.91,"p":0.575},{"c":3.9,"p":0.63},
          {"c":3.98,"p":0.38},{"c":3.99,"p":0.417},{"c":3.97,"p":0.457},{"c":4,"p":0.5},{"c":3.96,"p":0.55},{"c":3.99,"p":0.6},
          {"c":4.05,"p":0.36},{"c":4.06,"p":0.4},{"c":4.04,"p":0.44},{"c":4.07,"p":0.48},{"c":4.05,"p":0.575},
          {"c":3.14,"p":1.59},{"c":3.41,"p":1.39},{"c":3.43,"p":1.27},{"c":3.62,"p":1.13},{"c":3.72,"p":1.27},{"c":3.31,"p":1.13},{"c":3.07,"p":0.92},{"c":3.19,"p":0.91},{"c":3.31,"p":0.95},{"c":3.62,"p":0.91},{"c":3.84,"p":0.85},{"c":3.68,"p":0.8},{"c":4,"p":1.27},{"c":3.94,"p":1.23},{"c":4.41,"p":0.99},{"c":4.66,"p":0.85},{"c":4.86,"p":1},{"c":3.51,"p":1.79},{"c":3.53,"p":1.27},{"c":3.74,"p":1.21},{"c":3.86,"p":1.19},{"c":3.96,"p":1.25},{"c":3.02,"p":1.3},{"c":3.14,"p":1.23},{"c":3.41,"p":1.51},{"c":3.1,"p":0.84},{"c":3.25,"p":0.82},{"c":3.38,"p":0.86},{"c":3.47,"p":0.8},{"c":3.55,"p":0.88},{"c":3.02,"p":0.95},{"c":3.15,"p":1.05},{"c":3.27,"p":1.02},{"c":3.46,"p":0.98},{"c":3.58,"p":1.03},{"c":3.8,"p":0.97},{"c":3.95,"p":0.93},{"c":4.12,"p":0.82},{"c":4.2,"p":0.9},{"c":4.3,"p":0.78},{"c":4.5,"p":0.75},{"c":4.15,"p":1.06},{"c":3.66,"p":1.45},{"c":3.22,"p":1.18},{"c":3.9,"p":0.78},
          {"c":3.14,"p":0.243},{"c":3.29,"p":0.243},{"c":3.38,"p":0.256},{"c":3.51,"p":0.274},{"c":3.59,"p":0.289},{"c":3.88,"p":0.26},{"c":3.96,"p":0.25},{"c":3.05,"p":0.27},{"c":3.2,"p":0.26},{"c":3.7,"p":0.3},{"c":3.77,"p":0.28},{"c":4.05,"p":0.325},{"c":4.08,"p":0.36},{"c":4.24,"p":0.385},{"c":4.35,"p":0.43},{"c":4.49,"p":0.44},{"c":4.39,"p":0.51},{"c":4.6,"p":0.465},{"c":4.45,"p":0.55},{"c":4.24,"p":0.57},{"c":4.17,"p":0.68},{"c":4.33,"p":0.66},{"c":4.61,"p":0.57},{"c":4.66,"p":0.68},{"c":4.7,"p":0.64},{"c":4.05,"p":0.71},{"c":4.21,"p":0.71},{"c":3.99,"p":0.66},{"c":4.12,"p":0.45},{"c":4.18,"p":0.4},{"c":4.28,"p":0.48},{"c":4.15,"p":0.55},{"c":4.3,"p":0.35},{"c":4.42,"p":0.37},{"c":4.52,"p":0.34},{"c":4.4,"p":0.3},{"c":4.55,"p":0.4},{"c":4.63,"p":0.38},{"c":4.2,"p":0.33},{"c":4.1,"p":0.29},{"c":4.35,"p":0.6},{"c":4.5,"p":0.5},{"c":4.58,"p":0.52},{"c":4.68,"p":0.45},{"c":4.27,"p":0.42},{"c":4.45,"p":0.47},{"c":4.12,"p":0.62},{"c":4.7,"p":0.52},{"c":4.74,"p":0.42},{"c":4.72,"p":0.33},{"c":4.76,"p":0.58},
          {"c":4.8,"p":0.316},{"c":4.81,"p":0.347},{"c":4.79,"p":0.38},{"c":4.8,"p":0.457},{"c":4.82,"p":0.5},{"c":4.79,"p":0.55},{"c":4.81,"p":0.6},
          {"c":4.87,"p":0.25},{"c":4.88,"p":0.275},{"c":4.86,"p":0.3},{"c":4.89,"p":0.33},{"c":4.87,"p":0.36},{"c":4.86,"p":0.4},{"c":4.88,"p":0.44},{"c":4.87,"p":0.48},{"c":4.89,"p":0.525},{"c":4.86,"p":0.575},{"c":4.88,"p":0.63},
          {"c":4.94,"p":0.24},{"c":4.95,"p":0.263},{"c":4.93,"p":0.288},{"c":4.96,"p":0.316},{"c":4.92,"p":0.347},{"c":4.95,"p":0.38},{"c":4.94,"p":0.417},{"c":4.93,"p":0.457},{"c":4.96,"p":0.5},{"c":4.94,"p":0.55},{"c":4.92,"p":0.6},{"c":4.95,"p":0.66},{"c":4.93,"p":0.72},
          {"c":5.01,"p":0.209},{"c":5.02,"p":0.23},{"c":5,"p":0.25},{"c":5.03,"p":0.275},{"c":4.99,"p":0.3},{"c":5.02,"p":0.33},{"c":5.01,"p":0.36},{"c":5,"p":0.4},{"c":5.03,"p":0.44},{"c":5.01,"p":0.48},{"c":4.99,"p":0.525},{"c":5.02,"p":0.575},{"c":5,"p":0.63},{"c":5.01,"p":0.69},
          {"c":5.08,"p":0.219},{"c":5.09,"p":0.24},{"c":5.07,"p":0.263},{"c":5.1,"p":0.288},{"c":5.06,"p":0.316},{"c":5.09,"p":0.347},{"c":5.08,"p":0.38},{"c":5.07,"p":0.417},{"c":5.1,"p":0.457},{"c":5.08,"p":0.5},{"c":5.06,"p":0.55},{"c":5.09,"p":0.6},{"c":5.07,"p":0.66},{"c":5.08,"p":0.72},
          {"c":5.15,"p":0.23},{"c":5.16,"p":0.25},{"c":5.14,"p":0.275},{"c":5.17,"p":0.3},{"c":5.13,"p":0.33},{"c":5.16,"p":0.36},{"c":5.15,"p":0.4},{"c":5.14,"p":0.44},{"c":5.17,"p":0.48},{"c":5.15,"p":0.525},{"c":5.13,"p":0.575},{"c":5.16,"p":0.63},
          {"c":5.22,"p":0.263},{"c":5.23,"p":0.288},{"c":5.21,"p":0.316},{"c":5.24,"p":0.347},{"c":5.2,"p":0.38},{"c":5.23,"p":0.417},{"c":5.22,"p":0.457},{"c":5.21,"p":0.5},{"c":5.24,"p":0.55},{"c":5.22,"p":0.6},
          {"c":5.29,"p":0.275},{"c":5.3,"p":0.3},{"c":5.28,"p":0.33},{"c":5.31,"p":0.36},{"c":5.29,"p":0.44},{"c":5.28,"p":0.48},{"c":5.3,"p":0.525},
          {"c":5.08,"p":1.13},{"c":4.85,"p":1.02},{"c":5.23,"p":0.91},{"c":5.29,"p":0.86},{"c":5.35,"p":0.83},{"c":4.92,"p":0.8},{"c":5.04,"p":0.77},{"c":5.2,"p":0.76},{"c":5.31,"p":0.64},{"c":5.35,"p":0.6},{"c":5.39,"p":0.42},{"c":5.37,"p":0.37},{"c":5.43,"p":0.31},{"c":5.46,"p":0.23},{"c":5.56,"p":0.33},{"c":5.6,"p":0.23},{"c":5.46,"p":0.17},{"c":5.36,"p":0.17},{"c":5.29,"p":0.19},{"c":4.91,"p":0.14},{"c":5.09,"p":0.14},{"c":5.23,"p":0.14},{"c":5.09,"p":0.16},{"c":5.16,"p":0.16},{"c":4.82,"p":0.18},{"c":4.94,"p":0.18},{"c":4.98,"p":0.17},{"c":4.78,"p":0.24},{"c":4.8,"p":0.27},{"c":4.75,"p":0.5},{"c":5.33,"p":0.5},{"c":5.36,"p":0.27},{"c":5.4,"p":0.22},{"c":4.84,"p":0.7},{"c":5.12,"p":0.7},{"c":4.9,"p":0.2},{"c":5.25,"p":0.22},
          {"c":6.99,"p":0.41},{"c":7.28,"p":0.43},{"c":7.3,"p":0.46},{"c":7.24,"p":0.35},{"c":7.3,"p":0.34},{"c":7.34,"p":0.39},{"c":7.37,"p":0.29},{"c":7.37,"p":0.27},{"c":7.42,"p":0.31},{"c":7.46,"p":0.32},{"c":7.48,"p":0.58},{"c":7.5,"p":0.56},{"c":7.48,"p":0.43},{"c":7.47,"p":0.4},{"c":7.52,"p":0.41},{"c":7.55,"p":0.32},{"c":7.56,"p":0.25},{"c":7.57,"p":0.34},{"c":7.58,"p":0.65},{"c":7.58,"p":0.58},{"c":7.61,"p":0.43},{"c":7.62,"p":0.41},{"c":7.64,"p":0.46},{"c":7.68,"p":0.48},{"c":7.68,"p":0.39},{"c":7.67,"p":0.26},{"c":7.71,"p":0.56},{"c":7.73,"p":0.39},{"c":7.64,"p":0.34},{"c":7.67,"p":0.36},{"c":7.68,"p":0.33},{"c":7.64,"p":0.31},{"c":7.71,"p":0.33},{"c":7.79,"p":0.3},{"c":7.81,"p":0.29},{"c":7.83,"p":0.3},{"c":7.85,"p":0.31},{"c":7.79,"p":0.51},{"c":7.8,"p":0.43},{"c":7.86,"p":0.42},{"c":7.86,"p":0.64},{"c":7.9,"p":0.47},{"c":7.9,"p":0.5},{"c":7.91,"p":0.34},{"c":7.92,"p":0.52},{"c":7.91,"p":0.41},{"c":7.95,"p":0.39},{"c":7.97,"p":0.39},{"c":7.96,"p":0.33},{"c":7.97,"p":0.31},{"c":7.92,"p":0.3},{"c":7.91,"p":0.29},{"c":7.85,"p":0.28},{"c":7.92,"p":0.33},{"c":7.97,"p":0.41},{"c":7.57,"p":0.48},{"c":7.62,"p":0.35},{"c":7.48,"p":0.34},{"c":7.43,"p":0.3},{"c":7.37,"p":0.31},{"c":7.5,"p":0.33},{"c":7.57,"p":0.31},{"c":7.39,"p":0.36},{"c":7.53,"p":0.37},{"c":7.6,"p":0.38},{"c":7.75,"p":0.36},{"c":7.7,"p":0.29},{"c":7.87,"p":0.36},{"c":7.93,"p":0.37},{"c":7.44,"p":0.35},{"c":7.65,"p":0.38}
        ]
      },
      "mark": {"type": "circle", "size": 40, "color": "#6a4ea3", "opacity": 1},
      "encoding": {
        "x": {
          "field": "c",
          "type": "quantitative",
          "scale": {"domain": [-0.408, 8.307], "nice": false, "zero": false},
          "axis": {
            "orient": "bottom",
            "values": [-0.05, 0.5, 1.05, 1.6, 1.7, 1.8, 2.4, 3, 4, 5, 6.5, 8],
            "labelExpr": "indexof([0.5,1.6,1.8,3,5,8], datum.value) >= 0 ? format(datum.value, '~g') : ''",
            "labelOverlap": false,
            "labelFlush": false,
            "labelBound": false,
            "labelFontSize": 10,
            "labelColor": "#4d4d4d",
            "labelPadding": 3,
            "tickOpacity": {"condition": {"test": "indexof([0.5,1.6,1.8,3,5,8], datum.value) >= 0", "value": 1}, "value": 0},
            "tickColor": "#333333",
            "tickSize": 4,
            "tickWidth": 1,
            "gridColor": "#ebebeb",
            "gridWidth": {"condition": {"test": "indexof([0.5,1.6,1.8,3,5,8], datum.value) >= 0", "value": 1.5}, "value": 0.75},
            "domainColor": "#333333",
            "domainWidth": 1.6,
            "title": "C",
            "titleFontSize": 20,
            "titleFontWeight": "normal",
            "titleColor": "#000000",
            "titleAlign": "left",
            "titleBaseline": "alphabetic",
            "titleX": 291,
            "titleY": 42.7
          }
        },
        "y": {
          "field": "p",
          "type": "quantitative",
          "scale": {"type": "log", "domain": [0.106, 27.8], "nice": false},
          "axis": {
            "values": [0.173, 0.3, 0.548, 1, 1.732, 3, 5.477, 10, 17.32],
            "labelExpr": "indexof([0.3,1,3,10], datum.value) >= 0 ? format(datum.value, '~g') : ''",
            "labelOverlap": false,
            "labelFlush": false,
            "labelBound": false,
            "labelFontSize": 10,
            "labelColor": "#4d4d4d",
            "labelPadding": 3,
            "tickOpacity": {"condition": {"test": "indexof([0.3,1,3,10], datum.value) >= 0", "value": 1}, "value": 0},
            "tickColor": "#333333",
            "tickSize": 4,
            "tickWidth": 1,
            "gridColor": "#ebebeb",
            "gridWidth": {"condition": {"test": "indexof([0.3,1,3,10], datum.value) >= 0", "value": 1.5}, "value": 0.75},
            "domainColor": "#222222",
            "domainWidth": 1.6,
            "title": "PASI",
            "titleFontSize": 20.5,
            "titleFontWeight": "normal",
            "titleColor": "#000000",
            "titleAngle": 270,
            "titleAlign": "center",
            "titleBaseline": "alphabetic",
            "titleX": -27,
            "titleY": 163
          }
        }
      }
    },
    {
      "data": {"values": [{"pasi": 1}]},
      "mark": {"type": "rule", "color": "#c8141e", "strokeWidth": 2.8, "strokeDash": [10, 11]},
      "encoding": {
        "x": {
          "datum": -0.408,
          "type": "quantitative",
          "scale": {"domain": [-0.408, 8.307], "nice": false, "zero": false},
          "axis": {
            "orient": "bottom",
            "labels": false,
            "ticks": false,
            "domain": false,
            "grid": false,
            "title": "trough−ss",
            "titleFontSize": 14.5,
            "titleFontWeight": "normal",
            "titleColor": "#000000",
            "titleAlign": "left",
            "titleBaseline": "alphabetic",
            "titleX": 305.5,
            "titleY": 45
          }
        },
        "x2": {"datum": 8.307},
        "y": {"field": "pasi", "type": "quantitative"}
      }
    },
    {
      "data": {"values": [{"lo": 1.6, "hi": 1.8, "top": 21.5}]},
      "mark": {"type": "rect", "fillOpacity": 0, "stroke": "#0a9e5a", "strokeWidth": 2.8, "strokeDash": [11, 6]},
      "encoding": {
        "x": {
          "field": "lo",
          "type": "quantitative",
          "scale": {"domain": [-0.408, 8.307], "nice": false, "zero": false},
          "axis": {
            "orient": "bottom",
            "labels": false,
            "ticks": false,
            "domain": false,
            "grid": false,
            "title": "[mg/L]",
            "titleFontSize": 20,
            "titleFontWeight": "normal",
            "titleColor": "#000000",
            "titleAlign": "left",
            "titleBaseline": "alphabetic",
            "titleX": 371,
            "titleY": 42.7
          }
        },
        "x2": {"field": "hi"},
        "y": {"field": "top", "type": "quantitative"},
        "y2": {"datum": 0.106}
      }
    }
  ]
}
